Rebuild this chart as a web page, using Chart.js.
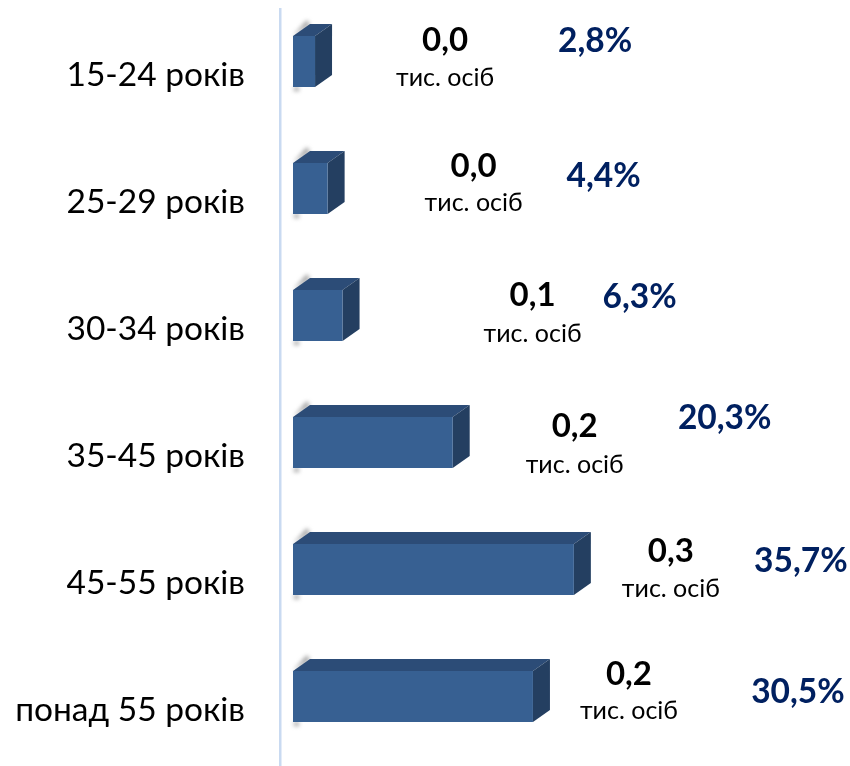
<!DOCTYPE html>
<html>
<head>
<meta charset="utf-8">
<style>
  html, body { margin: 0; padding: 0; background: #fff; overflow: hidden; }
  #wrap { position: relative; width: 850px; height: 766px; overflow: hidden; }
  #chart { position: absolute; left: 0; top: -12px; }
</style>
<script src="https://cdn.jsdelivr.net/npm/chart.js@4"></script>
</head>
<body>
<div id="wrap"><canvas id="chart" width="850" height="790"></canvas></div>
<script>
const categories = ['15-24 років', '25-29 років', '30-34 років', '35-45 років', '45-55 років', 'понад 55 років'];
const shares = [2.8, 4.4, 6.3, 20.3, 35.7, 30.5];
const thousands = [0.0, 0.0, 0.1, 0.2, 0.3, 0.2];
const unitLabel = 'тис. осіб';

// the labels were placed by hand in the original, so each has its own offset from the bar end
const valueDx = [130, 146, 190, 122, 97, 96];
const valueDy = [-21, -22, -20, -16, -18, -22];
const unitDy = [16, 14, 18, 22, 19, 14];
const shareDx = [280, 276, 297, 272, 227, 265];
const shareDy = [-20, -12, -18, -24, -8, -4];

const FONT = 'Lato, "Open Sans", sans-serif';
const depthX = 17;
const depthY = -12;

const fakeDepth = {
  id: 'fakeDepth',
  beforeDatasetsDraw(chart) {
    const ctx = chart.ctx;
    chart.getDatasetMeta(0).data.forEach(bar => {
      const top = bar.y - bar.height / 2;
      const bottom = bar.y + bar.height / 2;

      // soft smear behind the bar corners
      ctx.save();
      ctx.filter = 'blur(2px)';
      ctx.fillStyle = 'rgba(120,120,120,0.7)';
      ctx.beginPath();
      ctx.moveTo(bar.base, top);
      ctx.lineTo(bar.base + 14, top - 16);
      ctx.lineTo(bar.base + 17, top - 11);
      ctx.closePath();
      ctx.fill();
      ctx.fillRect(bar.base + 1, bottom, 5, 4);
      ctx.restore();

      ctx.fillStyle = '#2c4c77';
      ctx.beginPath();
      ctx.moveTo(bar.base, top);
      ctx.lineTo(bar.base + depthX, top + depthY);
      ctx.lineTo(bar.x + depthX, top + depthY);
      ctx.lineTo(bar.x, top);
      ctx.closePath();
      ctx.fill();

      ctx.fillStyle = '#243f61';
      ctx.beginPath();
      ctx.moveTo(bar.x, top);
      ctx.lineTo(bar.x + depthX, top + depthY);
      ctx.lineTo(bar.x + depthX, bottom + depthY);
      ctx.lineTo(bar.x, bottom);
      ctx.closePath();
      ctx.fill();
    });
  }
};

const axisLine = {
  id: 'axisLine',
  beforeDraw(chart) {
    const ctx = chart.ctx;
    const y = chart.scales.y;
    ctx.save();
    ctx.fillStyle = '#c9daf1';
    ctx.fillRect(y.right, y.top + 10, 2.5, y.bottom - y.top);
    ctx.restore();
  }
};

const barLabels = {
  id: 'barLabels',
  afterDatasetsDraw(chart) {
    const ctx = chart.ctx;
    ctx.save();
    ctx.textAlign = 'center';
    ctx.textBaseline = 'middle';
    chart.getDatasetMeta(0).data.forEach((bar, i) => {
      const valueX = bar.x + valueDx[i];
      ctx.fillStyle = '#000';
      ctx.font = 'bold 33px ' + FONT;
      ctx.fillText(thousands[i].toFixed(1).replace('.', ','), valueX, bar.y + valueDy[i]);
      ctx.font = '25px ' + FONT;
      ctx.fillText(unitLabel, valueX, bar.y + unitDy[i]);
      ctx.fillStyle = '#002060';
      ctx.font = 'bold 33.5px ' + FONT;
      ctx.fillText(shares[i].toFixed(1).replace('.', ',') + '%', bar.x + shareDx[i], bar.y + shareDy[i]);
    });
    ctx.restore();
  }
};

new Chart(document.getElementById('chart'), {
  type: 'bar',
  data: {
    labels: categories,
    datasets: [{
      data: shares,
      backgroundColor: '#376092',
      borderWidth: 0,
      barPercentage: 0.402,
      categoryPercentage: 1
    }]
  },
  options: {
    indexAxis: 'y',
    responsive: false,
    animation: false,
    layout: { padding: { top: 10, bottom: 18, left: 0, right: 0 } },
    plugins: { legend: { display: false }, tooltip: { enabled: false } },
    scales: {
      x: { display: false, min: -1.78, max: 70.8 },
      y: {
        afterFit(scale) {
          scale.width = 279;
          scale.paddingTop = 0;
          scale.paddingBottom = 0;
        },
        grid: { display: false },
        border: { display: false },
        ticks: {
          color: '#000',
          padding: 26,
          labelOffset: 13.5,
          font: { family: FONT, size: 33.5 }
        }
      }
    }
  },
  plugins: [axisLine, fakeDepth, barLabels]
});
</script>
</body>
</html>
